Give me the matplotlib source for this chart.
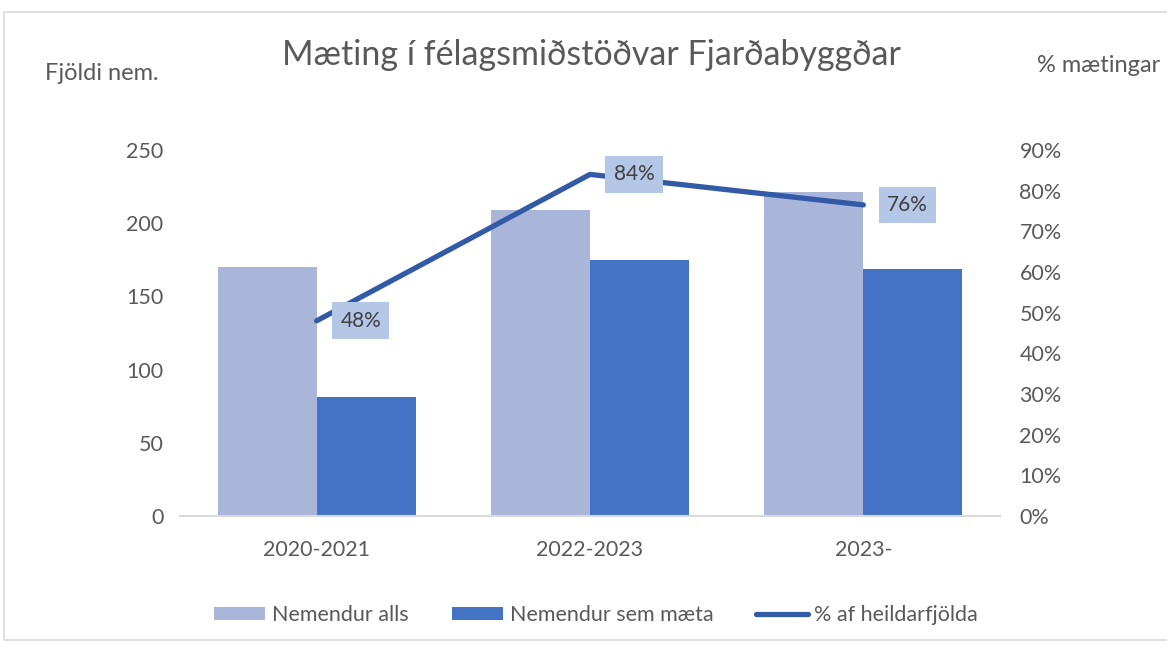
import numpy as np
import matplotlib.pyplot as plt
import matplotlib.ticker as mticker
from matplotlib.patches import Rectangle

plt.rcParams["font.family"] = ["Lato", "DejaVu Sans"]

timabil = ["2020-2021", "2022-2023", "2023-"]
nemendur_alls = [170, 209, 221]
nemendur_maeta = [81, 175, 169]
hlutfall = [0.48, 0.84, 0.765]
hlutfall_texti = ["48%", "84%", "76%"]

gray = "#595959"
light = "#A9B6D9"
dark = "#4472C4"
linecol = "#335AA6"

fig = plt.figure(figsize=(11.67, 6.47), dpi=100)
ax = fig.add_axes([180 / 1167, 1 - 516 / 647, 820 / 1167, 366 / 647])
ax2 = ax.twinx()

x = np.arange(len(timabil))
w = 0.362
ax.bar(x - w / 2, nemendur_alls, w, color=light, label="Nemendur alls")
ax.bar(x + w / 2, nemendur_maeta, w, color=dark, label="Nemendur sem mæta")
ax2.plot(x, hlutfall, color=linecol, linewidth=3.8, solid_capstyle="round",
         label="% af heildarfjölda")

for xi, yi, t in zip(x, hlutfall, hlutfall_texti):
    ax2.annotate(t, (xi, yi), xytext=(44, 0), textcoords="offset pixels",
                 ha="center", va="center", fontsize=15, color="#404040",
                 bbox=dict(boxstyle="square,pad=0.4", fc="#B4C7E7", ec="none"))

ax.set_xlim(-0.5, 2.5)
ax.set_ylim(0, 250)
ax2.set_ylim(0, 0.9)
ax.set_yticks(range(0, 251, 50))
ax2.set_yticks(np.arange(0, 0.91, 0.1))
ax2.yaxis.set_major_formatter(mticker.FuncFormatter(lambda v, p: f"{v * 100:.0f}%"))
ax.set_xticks(x)
ax.set_xticklabels(timabil)

for a in (ax, ax2):
    for s in a.spines.values():
        s.set_visible(False)
    a.tick_params(length=0, labelsize=15.5, colors=gray)
ax.spines["bottom"].set_visible(True)
ax.spines["bottom"].set_color("#D9D9D9")
ax.spines["bottom"].set_linewidth(1.5)
ax.tick_params(axis="y", pad=12)
ax.tick_params(axis="x", pad=17)
ax2.tick_params(axis="y", pad=14)

fig.text(591 / 1167, 1 - 55 / 647, "Mæting í félagsmiðstöðvar Fjarðabyggðar",
         ha="center", va="center", fontsize=24.5, color=gray)
fig.text(45 / 1167, 1 - 73 / 647, "Fjöldi nem.", ha="left", va="center",
         fontsize=17, color=gray)
fig.text(1037 / 1167, 1 - 65 / 647, "% mætingar", ha="left", va="center",
         fontsize=17, color=gray)

h1, l1 = ax.get_legend_handles_labels()
h2, l2 = ax2.get_legend_handles_labels()
fig.legend(h1 + h2, l1 + l2, loc="center", bbox_to_anchor=(596 / 1167, 1 - 615 / 647),
           ncol=3, frameon=False, fontsize=15.5, labelcolor=gray,
           handlelength=2.4, handleheight=0.6, handletextpad=0.3, columnspacing=2.0)

fig.add_artist(Rectangle((4 / 1167, 1 - 640 / 647), 1.2, 628 / 647,
                         transform=fig.transFigure, fill=False,
                         ec="#D9D9D9", lw=1.2))

plt.savefig("out.png", dpi=100)
